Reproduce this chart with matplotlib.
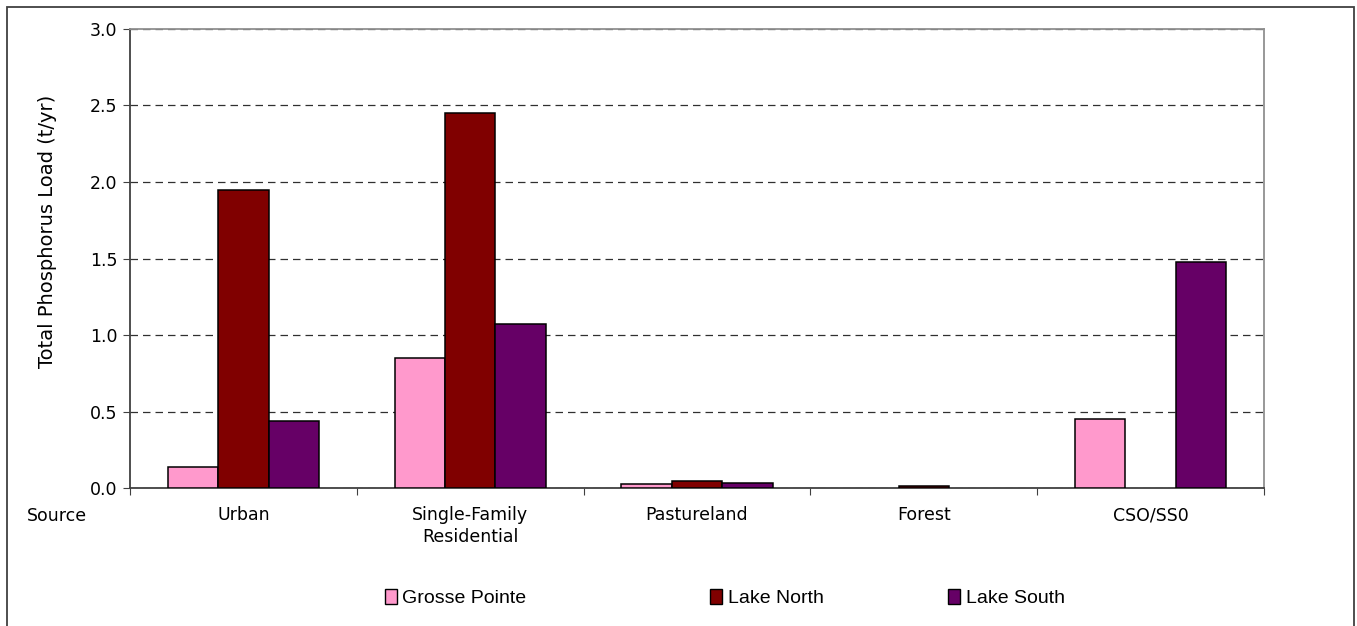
import numpy as np
import matplotlib
matplotlib.use("Agg")
import matplotlib.pyplot as plt
from matplotlib.patches import Rectangle, Patch

# phosphorus load by source for each lake segment
categories = ["Urban", "Single-Family\nResidential", "Pastureland", "Forest", "CSO/SS0"]
series = ["Grosse Pointe", "Lake North", "Lake South"]
grosse_pointe = [0.14, 0.85, 0.025, 0.0, 0.45]
lake_north = [1.95, 2.45, 0.045, 0.015, 0.0]
lake_south = [0.44, 1.07, 0.035, 0.0, 1.48]
colors = ["#FF99CC", "#800000", "#660066"]

plt.rcParams['font.family'] = ['DejaVu Sans']

fig = plt.figure(figsize=(13.57, 6.26), dpi=100)
ax = fig.add_axes([0.0958, 0.2204, 0.9315 - 0.0958, 0.9537 - 0.2204])

x = np.arange(len(categories))
w = 0.222
for i, (vals, c, name) in enumerate(zip([grosse_pointe, lake_north, lake_south], colors, series)):
    # empty bars get no outline so they don't show on the axis
    lw = [1.1 if v > 0 else 0 for v in vals]
    ax.bar(x + (i - 1) * w, vals, width=w, color=c, edgecolor="black",
           linewidth=lw, label=name, zorder=3)

ax.set_xlim(-0.5, len(categories) - 0.5)
ax.set_ylim(0, 3.0)
ax.set_yticks(np.arange(0, 3.01, 0.5))
ax.set_yticklabels([f"{v:.1f}" for v in np.arange(0, 3.01, 0.5)], fontsize=12.5)
ax.yaxis.grid(True, linestyle=(0, (6, 4)), color="#303030", linewidth=0.9, zorder=0)

# tick marks between categories, labels centred on groups
ax.set_xticks(np.arange(-0.5, len(categories)))
ax.set_xticklabels([])
ax.set_xticks(x, minor=True)
ax.set_xticklabels(categories, minor=True, fontsize=12.5, linespacing=1.25)
ax.tick_params(axis="x", which="minor", length=0, pad=13)
ax.tick_params(axis="x", which="major", direction="out", length=5, color="#404040")
ax.tick_params(axis="y", direction="out", length=5, color="#404040", pad=4)

for side in ["left", "bottom"]:
    ax.spines[side].set_color("#404040")
    ax.spines[side].set_linewidth(1.3)
for side in ["top", "right"]:
    ax.spines[side].set_color("#909090")
    ax.spines[side].set_linewidth(1.3)

ax.set_ylabel("Total Phosphorus Load (t/yr)", fontsize=14)
ax.yaxis.set_label_coords(-0.064, 0.56)
fig.text(27 / 1357, 0.176, "Source", fontsize=12.5, va="center", ha="left")

# legend entries spread along the bottom, one per series
legend_x = [385, 710, 948]
for c, name, lx in zip(colors, series, legend_x):
    h = Patch(facecolor=c, edgecolor="black", linewidth=1.0)
    fig.legend([h], [name], loc="center left", bbox_to_anchor=(lx / 1357, 0.045),
               frameon=False, borderpad=0, borderaxespad=0, handlelength=0.6,
               handleheight=0.8, handletextpad=0.3,
               prop={"family": ["Liberation Sans", "DejaVu Sans"], "size": 14})

# outer chart border
fig.patches.append(Rectangle((7 / 1357, -0.05), 1347 / 1357, 1 - 7 / 626 + 0.05,
                             transform=fig.transFigure, fill=False,
                             edgecolor="#404040", linewidth=1.3))

fig.savefig("out.png", dpi=100)
